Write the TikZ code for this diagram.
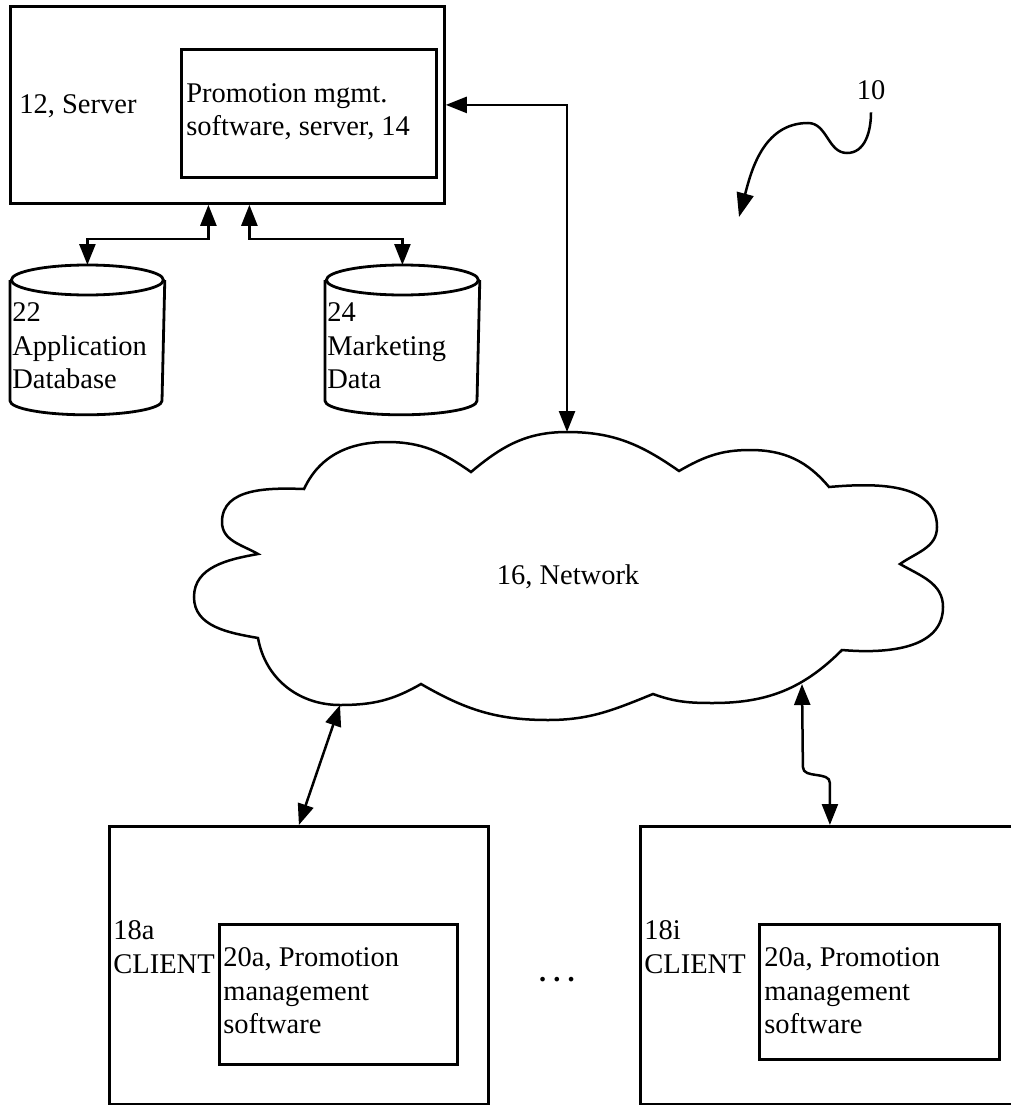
\documentclass[tikz,border=0pt]{standalone}
\usepackage{fontspec}
\setmainfont{Liberation Serif}
\usepackage{tikz}
\usetikzlibrary{arrows.meta}

\begin{document}
\begin{tikzpicture}[x=1pt,y=-1pt,line width=2.8pt,
        font=\fontsize{28.5}{33.5}\selectfont,
        >={Triangle[length=21pt,width=16pt]},
        box/.style={draw,inner sep=0pt,anchor=north west},
        txt/.style={anchor=west,align=left,inner sep=1pt},
        both/.style={<->,line width=2.5pt}]
            \useasboundingbox (0,0) rectangle (1011,1105);

            \node (server) [box,minimum width=434pt,minimum height=197pt] at (9,5) {};
            \node (serverlbl) [txt] at (17,106) {12, Server};
            \node (srvsw) [box,minimum width=255pt,minimum height=128pt] at (180,48) {};
            \node (srvswlbl) [txt] at (184,112) {Promotion mgmt.\\software, server, 14};

            \node (appdb) [box,draw=none,minimum width=152pt,minimum height=147pt] at (10,265) {};
            \node (mktdb) [box,draw=none,minimum width=152pt,minimum height=147pt] at (325,265) {};
            \foreach \db in {appdb,mktdb} {
                \draw ([yshift=-15pt]\db.north west) -- ([yshift=14pt]\db.south west)
                    arc[start angle=180,end angle=360,x radius=76pt,y radius=14pt]
                    -- ([yshift=-15pt]\db.north east);
                \draw ([yshift=-15pt]\db.north) ellipse [x radius=76pt,y radius=15pt];
            }
            \node (appdblbl) [txt] at (10,346) {22\\Application\\Database};
            \node (mktdblbl) [txt] at (325,346) {24\\Marketing\\Data};

            \draw[both] ([xshift=-19pt]server.south) -- ++(0,34) -| (appdb.north);
            \draw[both] ([xshift=22pt]server.south) -- ++(0,34) -| (mktdb.north);

            \draw[line width=2.5pt] (304,489) to[out=65,in=180] (387,442) to[out=0,in=145] (471,472)
                to[out=40,in=180] (567,432) coordinate (nettop) to[out=0,in=145] (679,471)
                to[out=30,in=180] (750,450) to[out=0,in=130] (829,487)
                to[out=5,in=90] (937,527) to[out=-90,in=35] (900,564)
                to[out=-30,in=90] (943,607) to[out=-90,in=-5] (842,650)
                to[out=-135,in=0] (713,703) to[out=180,in=-20] (653,694)
                to[out=-158,in=0] (548,720) to[out=180,in=-30] (421,684)
                to[out=-150,in=0] (340,705) coordinate (netsw) to[out=180,in=-80] (258,638)
                to[out=170,in=-90] (194,597) to[out=90,in=-170] (258,554)
                to[out=150,in=-90] (222,522) to[out=90,in=178] (304,489) -- cycle;
            \node (net) at (568,577) {16, Network};
            \coordinate (netse) at (802,684);

            \draw[both] (server.east) -| (nettop);

            \node (ten) at (871,90) {10};
            \draw[-{Triangle[length=24pt,width=17pt]},line width=2.5pt] ([yshift=-8pt]ten.south)
                to[out=-90,in=0] (847,153) to[out=180,in=0] (808,123) to[out=180,in=75] (739,217);

            \node (client1) [box,minimum width=379pt,minimum height=278pt] at (108,825) {};
            \node (client1sw) [box,minimum width=238pt,minimum height=140pt] at (218,923) {};
            \node (client1lbl) [txt] at (111,947) {18a\\CLIENT};
            \node (client1swlbl) [txt] at (221,991) {20a, Promotion\\management\\software};

            \node (client2) [box,minimum width=379pt,minimum height=278pt] at (639,825) {};
            \node (client2sw) [box,minimum width=240pt,minimum height=135pt] at (758,923) {};
            \node (client2lbl) [txt] at (642,947) {18i\\CLIENT};
            \node (client2swlbl) [txt] at (762,991) {20a, Promotion\\management\\software};

            \node (dots) at (557,980) {\textbf{.\ .\ .}};

            \draw[both] (client1.north) -- (netsw);
            \draw[both] (client2.north) -- ++(0,-42) to[out=90,in=-90] ++(-27,-16) -- (netse);
        \end{tikzpicture}
\end{document}
